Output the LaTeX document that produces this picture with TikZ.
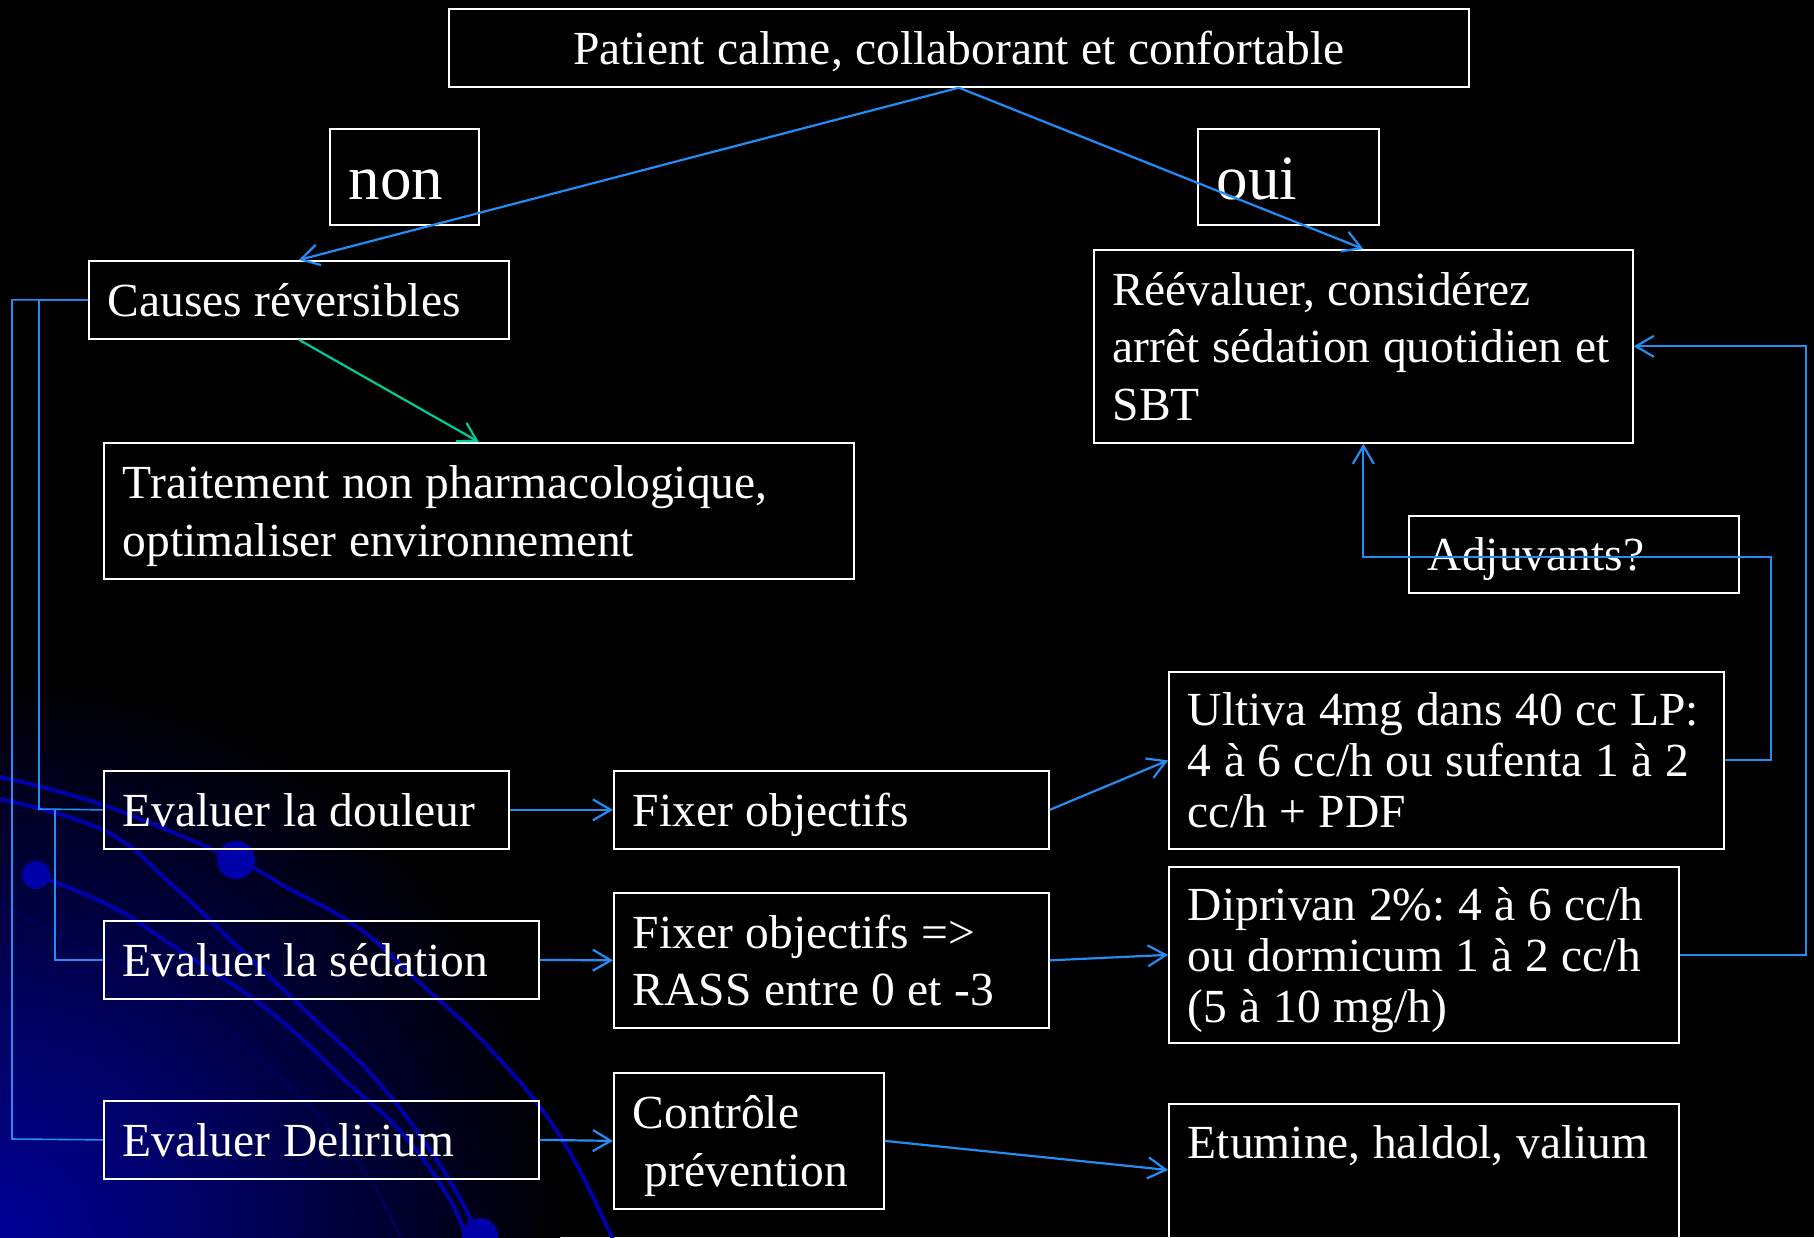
\documentclass[tikz,border=0pt]{standalone}
\usepackage{fontspec}
\setmainfont{Liberation Serif}
\usetikzlibrary{arrows.meta,calc}
\frenchspacing
\definecolor{cblue}{RGB}{36,140,245}
\definecolor{cgreen}{RGB}{0,204,150}
\definecolor{arcblue}{RGB}{0,0,170}
\definecolor{arcdark}{RGB}{0,0,85}
\definecolor{glowA}{RGB}{0,0,150}
\definecolor{glowB}{RGB}{0,0,95}
\pgfdeclareradialshading{cornerglow}{\pgfpoint{0bp}{0bp}}{color(0bp)=(glowA); color(10bp)=(glowB); color(25bp)=(black); color(50bp)=(black)}
\newcommand\mystrut{\rule[-12pt]{0pt}{57pt}}
\newcommand\nstrut{\rule[-12pt]{0pt}{70pt}}
\newcommand\mainfnt{\fontsize{47.5}{57.5}\selectfont\frenchspacing}
\newcommand\tightfnt{\fontsize{47.5}{51}\selectfont\frenchspacing}
\newcommand\bigfnt{\fontsize{63}{75}\selectfont}
\newcommand\Lm[1]{\mbox{\spaceskip=12.5pt\xspaceskip=12.5pt\relax #1}}
\tikzset{
  box/.style={draw=white, line width=1.7pt, rectangle, inner xsep=19pt, inner ysep=4pt,
    align=left, font=\mainfnt, text=white, anchor=north west,
    execute at begin node=\mystrut, execute at end node=\mystrut},
  bigbox/.style={box, font=\bigfnt, execute at begin node=\nstrut, execute at end node=\nstrut},
  conn/.style={draw=cblue, line width=2.2pt, -{Straight Barb[length=18pt,width=21pt]}},
  conng/.style={conn, draw=cgreen},
  connl/.style={draw=cblue, line width=1.6pt},
  arcline/.style={draw=arcblue, line width=4pt, line cap=round},
  arcfaint/.style={draw=arcdark, line width=3pt, line cap=round},
}
\begin{document}
\begin{tikzpicture}[x=1pt, y=-1pt]
\useasboundingbox (0,0) rectangle (1814,1237);
% background
\fill[black] (0,0) rectangle (1814,1237);
\begin{scope}
  \clip (0,0) rectangle (1814,1237);
  \shade[shading=cornerglow] (0,1237) circle (560);
  \draw[arcfaint] plot[smooth, tension=0.7] coordinates {(0,905) (90,950) (200,1010) (300,1097) (370,1180) (405,1250)};
  \draw[arcline] plot[smooth, tension=0.7] coordinates {(-5,776) (103,805) (236,860) (286,887) (357,927) (420,983) (491,1050) (558,1133) (612,1237) (620,1260)};
  \draw[arcline] plot[smooth, tension=0.7] coordinates {(-5,798) (103,830) (170,883) (241,950) (312,1017) (379,1083) (440,1165) (478,1235) (485,1260)};
  \draw[arcline] plot[smooth, tension=0.7] coordinates {(36,875) (112,907) (179,950) (268,1010) (348,1083) (402,1133) (450,1200) (470,1250)};
  \fill[arcblue] (236,860) circle (19);
  \fill[arcblue] (36,875) circle (14);
  \fill[arcblue] (480,1236) circle (18);
\end{scope}

% nodes
\node[box, align=center, text width=982pt, minimum width=1020pt, minimum height=78pt] (top) at (448,8) {\Lm{Patient calme, collaborant et confortable}};
\node[bigbox, text width=111pt, minimum width=149pt, minimum height=96pt] (non) at (329,128) {non};
\node[bigbox, text width=143pt, minimum width=181pt, minimum height=96pt] (oui) at (1197,128) {oui};
\node[box, text width=382pt, minimum width=420pt, minimum height=78pt] (causes) at (88,260) {\Lm{Causes réversibles}};
\node[box, text width=501pt, minimum width=539pt, minimum height=193pt] (reeval) at (1093,249) {\Lm{Réévaluer, considérez}\\\Lm{arrêt sédation quotidien et}\\SBT};
\node[box, text width=712pt, minimum width=750pt, minimum height=136pt] (trait) at (103,442) {\Lm{Traitement non pharmacologique,}\\\Lm{optimaliser environnement}};
\node[box, text width=292pt, minimum width=330pt, minimum height=77pt] (adj) at (1408,515) {Adjuvants?};
\node[box, font=\tightfnt, text width=517pt, minimum width=555pt, minimum height=177pt] (ultiva) at (1168,671) {\Lm{Ultiva 4mg dans 40 cc LP:}\\\Lm{4 à 6 cc/h ou sufenta 1 à 2}\\\Lm{cc/h + PDF}};
\node[box, text width=367pt, minimum width=405pt, minimum height=78pt] (douleur) at (103,770) {\Lm{Evaluer la douleur}};
\node[box, text width=397pt, minimum width=435pt, minimum height=78pt] (fixer1) at (613,770) {\Lm{Fixer objectifs}};
\node[box, font=\tightfnt, text width=472pt, minimum width=510pt, minimum height=176pt] (diprivan) at (1168,866) {\Lm{Diprivan 2\%: 4 à 6 cc/h}\\\Lm{ou dormicum 1 à 2 cc/h}\\\Lm{(5 à 10 mg/h)}};
\node[box, text width=397pt, minimum width=435pt, minimum height=78pt] (sedation) at (103,920) {\Lm{Evaluer la sédation}};
\node[box, text width=397pt, minimum width=435pt, minimum height=135pt] (fixer2) at (613,892) {\Lm{Fixer objectifs =>}\\\Lm{RASS entre 0 et -3}};
\node[box, text width=397pt, minimum width=435pt, minimum height=78pt] (delirium) at (103,1100) {\Lm{Evaluer Delirium}};
\node[box, text width=232pt, minimum width=270pt, minimum height=136pt] (controle) at (613,1072) {\Lm{Contrôle}\\\Lm{\hspace{12pt}prévention}};
\node[box, inner ysep=10pt, text depth=100pt, text width=472pt, minimum width=510pt] (etumine) at (1168,1103) {\Lm{Etumine, haldol, valium}};

% helper coordinates
\coordinate (busA) at (39,809);
\coordinate (busB) at (55,809);
\coordinate (busC) at (12,1139);
\coordinate (r1) at (1771,557);
\coordinate (r2) at (1806,600);
\coordinate (etuin) at (1168,1170);

% connectors
\draw[conn] (top.south) -- (causes.north);
\draw[conn] (top.south) -- (reeval.north);
\draw[conng] (causes.south) -- (trait.north);
\draw[connl] (causes.west) -| (busA) -- (douleur.west);
\draw[connl] (causes.west) -| (busC) -- (delirium.west);
\draw[connl] (busB) |- (sedation.west);
\draw[conn] (douleur.east) -- (fixer1.west);
\draw[conn] (sedation.east) -- (fixer2.west);
\draw[conn] (delirium.east) -- (controle.west);
\draw[conn] (fixer1.east) -- (ultiva.west);
\draw[conn] (fixer2.east) -- (diprivan.west);
\draw[conn] (controle.east) -- (etuin);
\draw[conn] (ultiva.east) -| (r1) -| (reeval.south);
\draw[conn] (diprivan.east) -| (r2) |- (reeval.east);
\end{tikzpicture}
\end{document}
